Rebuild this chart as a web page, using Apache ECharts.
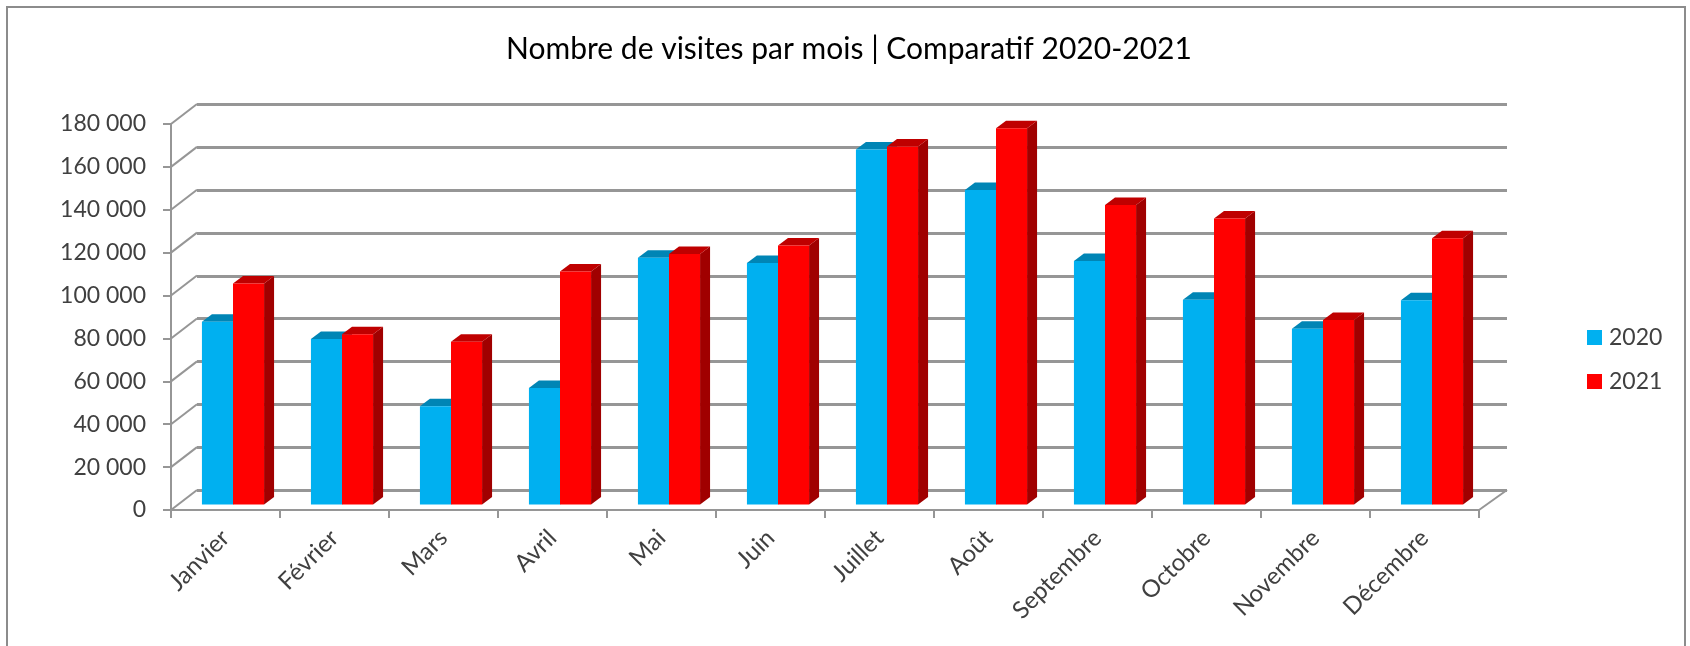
<!DOCTYPE html>
<html>
<head>
<meta charset="utf-8">
<style>
  html, body { margin: 0; padding: 0; background: #fff; }
  #chart { width: 1690px; height: 646px; }
</style>
<script src="https://cdn.jsdelivr.net/npm/echarts@6/dist/echarts.min.js"></script>
</head>
<body>
<div id="chart"></div>
<script>
var categories = ['Janvier', 'Février', 'Mars', 'Avril', 'Mai', 'Juin', 'Juillet', 'Août', 'Septembre', 'Octobre', 'Novembre', 'Décembre'];
var values2020 = [85200, 77200, 45800, 54300, 115100, 112600, 165600, 146600, 113600, 95500, 82000, 95300];
var values2021 = [103100, 79400, 75900, 108600, 116800, 120800, 167000, 175400, 139700, 133400, 86000, 124100];
var yTicks = [0, 20000, 40000, 60000, 80000, 100000, 120000, 140000, 160000, 180000];

var gridColor = '#969696';
var fontName = 'Lato';

// fake 3d : front face + top + side, all from api.coord
function bar3d(side, front, top, dark) {
  return function(params, api) {
    var base = api.coord([api.value(0), 0]);
    var head = api.coord([api.value(0), api.value(1)]);
    var w = api.size([1, 0])[0] * 0.285;
    var x = base[0] + 7.5 + (side === 0 ? -w : 0);
    var y0 = base[1] - 5.5;
    var y1 = head[1] - 5.5;
    var dx = 10, dy = -7.5;
    return {
      type: 'group',
      children: [
        { type: 'polygon', shape: { points: [[x + w, y0], [x + w + dx, y0 + dy], [x + w + dx, y1 + dy], [x + w, y1]] }, style: { fill: dark } },
        { type: 'polygon', shape: { points: [[x, y1], [x + dx, y1 + dy], [x + w + dx, y1 + dy], [x + w, y1]] }, style: { fill: top } },
        { type: 'rect', shape: { x: x, y: y1, width: w, height: y0 - y1 }, style: { fill: front } },
      ],
    };
  };
}

var chart = echarts.init(document.getElementById('chart'));

var option = {
  animation: false,
  backgroundColor: '#fff',
  title: {
    text: 'Nombre de visites par mois | Comparatif 2020-2021',
    left: 844,
    top: 29,
    textAlign: 'center',
    textStyle: { fontFamily: fontName, fontSize: 30, fontWeight: 'normal', color: '#000' },
  },
  legend: {
    left: 1582,
    top: 321,
    orient: 'vertical',
    itemWidth: 15,
    itemHeight: 15,
    itemGap: 21,
    icon: 'rect',
    data: ['2020', '2021'],
    textStyle: { fontFamily: fontName, fontSize: 23, color: '#404040', padding: [0, 0, 0, 2] },
  },
  graphic: [
    {
      type: 'rect',
      z: 0,
      shape: { x: 7, y: 7, width: 1678, height: 660 },
      style: { fill: 'none', stroke: '#8c8c8c', lineWidth: 2 },
    },
  ],
  grid: [
    { left: 171, top: 124, width: 1308, height: 386 },
    { left: 197, top: 104, width: 1310, height: 386.5 },
  ],
  xAxis: [
    {
      type: 'category',
      gridIndex: 0,
      data: categories,
      axisLine: { lineStyle: { color: gridColor, width: 2 } },
      axisTick: { show: true, alignWithLabel: false, length: 8, lineStyle: { color: gridColor, width: 2 } },
      axisLabel: {
        interval: 0,
        rotate: 45,
        margin: 24,
        fontFamily: fontName,
        fontSize: 24,
        color: '#404040',
      },
    },
    { type: 'category', gridIndex: 1, data: categories, show: false },
  ],
  yAxis: [
    {
      type: 'value',
      gridIndex: 0,
      min: 0,
      max: 180000,
      interval: 20000,
      axisLine: { show: true, lineStyle: { color: gridColor, width: 2 } },
      axisTick: { show: true, length: 8, lineStyle: { color: gridColor, width: 2 } },
      splitLine: { show: false },
      axisLabel: {
        margin: 25,
        fontFamily: fontName,
        fontSize: 23,
        color: '#404040',
        formatter: function(v) {
          return String(v).replace(/\B(?=(\d{3})+$)/g, ' ');
        },
      },
    },
    {
      type: 'value',
      gridIndex: 1,
      min: 0,
      max: 180000,
      interval: 20000,
      axisLine: { show: false },
      axisTick: { show: false },
      axisLabel: { show: false },
      splitLine: { show: true, lineStyle: { color: gridColor, width: 3 } },
    },
  ],
  series: [
    {
      name: 'wall',
      type: 'custom',
      xAxisIndex: 0,
      yAxisIndex: 0,
      silent: true,
      z: 1,
      data: yTicks.map(function(v) {
        return [0, v];
      }),
      renderItem: function(params, api) {
        var p = api.coord([0, api.value(1)]);
        var x = p[0] - api.size([1, 0])[0] / 2;
        return {
          type: 'line',
          shape: { x1: x, y1: p[1], x2: x + 26, y2: p[1] - 20 },
          style: { stroke: gridColor, lineWidth: 2 },
        };
      },
    },
    {
      name: 'floor',
      type: 'custom',
      xAxisIndex: 0,
      yAxisIndex: 0,
      silent: true,
      z: 1,
      data: [[categories.length - 1, 0]],
      renderItem: function(params, api) {
        var p = api.coord([api.value(0), 0]);
        var x = p[0] + api.size([1, 0])[0] / 2;
        return {
          type: 'line',
          shape: { x1: x, y1: p[1], x2: x + 28, y2: p[1] - 20 },
          style: { stroke: gridColor, lineWidth: 2 },
        };
      },
    },
    {
      name: '2020',
      type: 'custom',
      xAxisIndex: 0,
      yAxisIndex: 0,
      z: 3,
      itemStyle: { color: '#00b0f0' },
      encode: { x: 0, y: 1 },
      data: values2020.map(function(v, i) {
        return [i, v];
      }),
      renderItem: bar3d(0, '#00b0f0', '#0085b5', '#006f98'),
    },
    {
      name: '2021',
      type: 'custom',
      xAxisIndex: 0,
      yAxisIndex: 0,
      z: 4,
      itemStyle: { color: '#ff0000' },
      encode: { x: 0, y: 1 },
      data: values2021.map(function(v, i) {
        return [i, v];
      }),
      renderItem: bar3d(1, '#ff0000', '#bf0000', '#a00000'),
    },
  ],
};

chart.setOption(option);
</script>
</body>
</html>
